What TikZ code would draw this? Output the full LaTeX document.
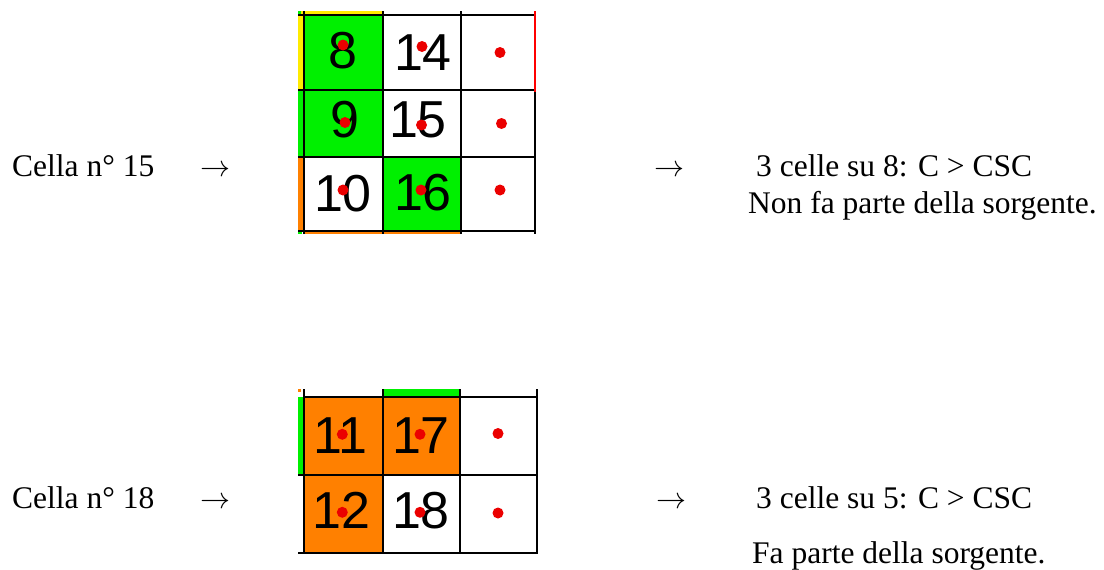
\documentclass[tikz,border=0pt]{standalone}
\usepackage{fontspec}
\setmainfont{Liberation Serif}
\newfontfamily\digitfont{Liberation Sans}
\definecolor{cgreen}{RGB}{0,240,0}
\definecolor{corange}{RGB}{255,128,0}
\definecolor{cyellow}{RGB}{255,235,0}
\definecolor{cred}{RGB}{235,0,0}
\newcommand{\bigarrow}{\resizebox{30pt}{!}{$\rightarrow$}}
\tikzset{
  txt/.style={anchor=base west, inner sep=0pt, font=\fontsize{31.5}{36}\selectfont},
  arr/.style={anchor=base west, inner sep=0pt},
  num/.style={anchor=base, inner sep=0pt, font=\digitfont\fontsize{52}{60}\selectfont},
  dot/.style={circle, fill=cred, inner sep=0pt, minimum size=11pt},
  gridline/.style={line width=2pt, black},
}
\begin{document}
\begin{tikzpicture}[x=1pt,y=-1pt]
\useasboundingbox (0,0) rectangle (1104,570);
% ---------- top grid ----------
\fill[cgreen] (304,15) rectangle (382.5,157);
\fill[cgreen] (382.5,157) rectangle (460.5,230.5);
\fill[cyellow] (298,11) rectangle (304,90);
\fill[cgreen] (298,11) rectangle (301,14);
\fill[cgreen] (298,90) rectangle (304,157);
\fill[corange] (298,157) rectangle (304,230.5);
\fill[cgreen] (298,231) rectangle (302,234);
\fill[cyellow] (304,11) rectangle (382.5,14);
\fill[corange] (304,231) rectangle (460.5,234);
\draw[gridline] (298,15) -- (535,15);
\draw[gridline] (298,90) -- (535,90);
\draw[gridline] (298,157) -- (535,157);
\draw[gridline] (298,230.5) -- (535,230.5);
\foreach \x in {304,382.5,460.5} \draw[gridline] (\x,11) -- (\x,234);
\draw[gridline] (535,90) -- (535,234);
\draw[line width=2pt, red] (535,11) -- (535,92);
\node[num] (n8) at (343,68) {8};
\node[num] (n14) at (423,70) {14};
\node[num] (n9) at (345,137) {9};
\node[num] (n15) at (418,137) {15};
\node[num] (n10) at (343,211) {10};
\node[num] (n16) at (423,210) {16};
\node[dot] (d1) at (343,45) {};
\node[dot] (d2) at (422,46.5) {};
\node[dot] (d3) at (500,52.5) {};
\node[dot] (d4) at (345,122.5) {};
\node[dot] (d5) at (421.5,125) {};
\node[dot] (d6) at (501.5,123.5) {};
\node[dot] (d7) at (343,190) {};
\node[dot] (d8) at (421,190) {};
\node[dot] (d9) at (500,190) {};
% ---------- bottom grid ----------
\fill[corange] (303.5,397) rectangle (460,475);
\fill[corange] (303.5,475) rectangle (382.5,553);
\fill[cgreen] (383,389) rectangle (459,396);
\fill[corange] (298,389) rectangle (301,392);
\fill[cgreen] (298,397) rectangle (303.5,475);
\draw[gridline] (303.5,397) -- (537,397);
\draw[gridline] (298,475) -- (537,475);
\draw[gridline] (298,553) -- (537,553);
\foreach \x in {303.5,382.5,460,537} \draw[gridline] (\x,389) -- (\x,554);
\node[num] (n11) at (340,453) {11};
\node[num] (n17) at (421,453) {17};
\node[num] (n12) at (341.5,528) {12};
\node[num] (n18) at (421,528) {18};
\node[dot] (e1) at (342.3,434.3) {};
\node[dot] (e2) at (420,434.3) {};
\node[dot] (e3) at (498,433.5) {};
\node[dot] (e4) at (342.3,512.3) {};
\node[dot] (e5) at (420,512.3) {};
\node[dot] (e6) at (498,513) {};
% ---------- texts ----------
\node[txt] (t1) at (12,176) {Cella n° 15};
\node[arr] (a1) at (200,176) {\bigarrow};
\node[arr] (a2) at (654,176) {\bigarrow};
\node[txt] (t2) at (756,176) {3 celle su 8: C > CSC};
\node[txt] (t3) at (748,213) {Non fa parte della sorgente.};
\node[txt] (t4) at (12,508) {Cella n° 18};
\node[arr] (a3) at (200,508) {\bigarrow};
\node[arr] (a4) at (656,508) {\bigarrow};
\node[txt] (t5) at (756,508) {3 celle su 5: C > CSC};
\node[txt] (t6) at (752,563) {Fa parte della sorgente.};
\end{tikzpicture}
\end{document}
